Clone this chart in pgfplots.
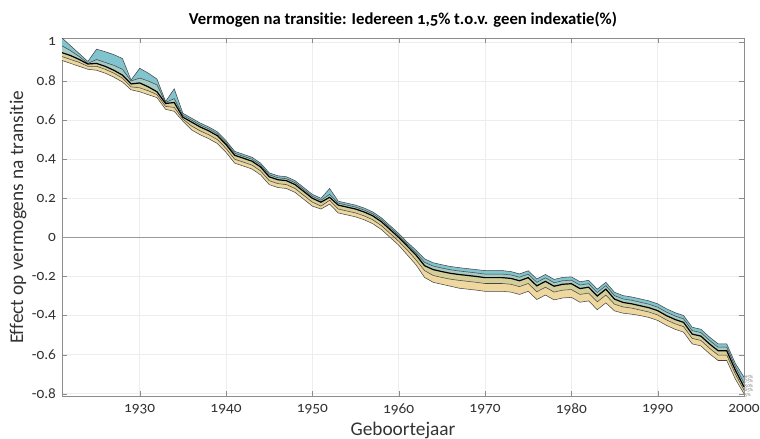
\documentclass[border=0pt]{standalone}
\usepackage{fontspec}
\setmainfont{Carlito}[Numbers=OldStyle, Ligatures=NoCommon]
\usepackage{pgfplots}
\usepackage{pgfplotstable}
\pgfplotsset{compat=1.18}
\usepgfplotslibrary{fillbetween}
\usetikzlibrary{calc}

\definecolor{bandhi}{HTML}{80C4D0}
\definecolor{bandmidhi}{HTML}{A6CBC2}
\definecolor{bandmidlo}{HTML}{D6CE98}
\definecolor{bandlo}{HTML}{EED8A0}
\definecolor{edge}{HTML}{454545}

% quantiles per geboortejaar
\pgfplotstableread{
year q5 q25 q50 q75 q95
1921 0.905 0.925 0.945 0.980 1.020
1922 0.890 0.910 0.930 0.955 0.980
1923 0.875 0.895 0.910 0.925 0.940
1924 0.860 0.875 0.887 0.890 0.900
1925 0.855 0.875 0.890 0.910 0.963
1926 0.840 0.860 0.875 0.895 0.950
1927 0.820 0.840 0.855 0.880 0.935
1928 0.795 0.815 0.830 0.860 0.915
1929 0.755 0.770 0.785 0.800 0.805
1930 0.745 0.765 0.790 0.815 0.865
1931 0.730 0.750 0.770 0.800 0.840
1932 0.715 0.730 0.745 0.780 0.810
1933 0.655 0.670 0.685 0.690 0.695
1934 0.645 0.665 0.690 0.710 0.760
1935 0.595 0.605 0.615 0.625 0.635
1936 0.550 0.570 0.590 0.600 0.610
1937 0.525 0.545 0.565 0.575 0.585
1938 0.505 0.525 0.545 0.555 0.565
1939 0.480 0.500 0.520 0.530 0.540
1940 0.435 0.455 0.475 0.485 0.495
1941 0.380 0.400 0.420 0.430 0.440
1942 0.365 0.385 0.405 0.415 0.425
1943 0.350 0.370 0.390 0.400 0.410
1944 0.320 0.340 0.360 0.370 0.380
1945 0.270 0.290 0.310 0.320 0.330
1946 0.255 0.275 0.295 0.305 0.315
1947 0.250 0.270 0.290 0.300 0.310
1948 0.230 0.250 0.270 0.280 0.290
1949 0.195 0.215 0.235 0.245 0.255
1950 0.160 0.180 0.200 0.210 0.220
1951 0.145 0.160 0.180 0.190 0.200
1952 0.170 0.190 0.205 0.220 0.250
1953 0.125 0.145 0.165 0.175 0.185
1954 0.115 0.135 0.155 0.165 0.175
1955 0.105 0.125 0.145 0.155 0.165
1956 0.090 0.110 0.130 0.140 0.150
1957 0.070 0.090 0.110 0.120 0.130
1958 0.040 0.060 0.080 0.090 0.100
1959 0.000 0.020 0.040 0.050 0.060
1960 -0.040 -0.020 0.000 0.010 0.020
1961 -0.090 -0.065 -0.045 -0.035 -0.025
1962 -0.140 -0.115 -0.090 -0.078 -0.065
1963 -0.205 -0.170 -0.145 -0.128 -0.110
1964 -0.230 -0.195 -0.165 -0.147 -0.130
1965 -0.240 -0.205 -0.175 -0.157 -0.140
1966 -0.250 -0.214 -0.184 -0.166 -0.149
1967 -0.260 -0.220 -0.190 -0.172 -0.155
1968 -0.265 -0.225 -0.195 -0.177 -0.160
1969 -0.270 -0.230 -0.200 -0.182 -0.165
1970 -0.276 -0.236 -0.206 -0.188 -0.170
1971 -0.276 -0.236 -0.206 -0.188 -0.170
1972 -0.276 -0.236 -0.206 -0.188 -0.170
1973 -0.280 -0.240 -0.210 -0.192 -0.175
1974 -0.292 -0.252 -0.222 -0.204 -0.187
1975 -0.276 -0.236 -0.206 -0.188 -0.171
1976 -0.318 -0.278 -0.248 -0.230 -0.213
1977 -0.295 -0.255 -0.225 -0.207 -0.190
1978 -0.320 -0.280 -0.250 -0.232 -0.215
1979 -0.310 -0.270 -0.240 -0.222 -0.205
1980 -0.307 -0.267 -0.237 -0.219 -0.202
1981 -0.332 -0.292 -0.262 -0.244 -0.227
1982 -0.325 -0.285 -0.255 -0.237 -0.220
1983 -0.370 -0.330 -0.300 -0.282 -0.265
1984 -0.335 -0.295 -0.265 -0.247 -0.230
1985 -0.376 -0.342 -0.316 -0.298 -0.281
1986 -0.388 -0.356 -0.333 -0.315 -0.298
1987 -0.393 -0.362 -0.340 -0.322 -0.305
1988 -0.400 -0.372 -0.350 -0.332 -0.315
1989 -0.410 -0.382 -0.360 -0.342 -0.325
1990 -0.425 -0.397 -0.375 -0.357 -0.340
1991 -0.450 -0.422 -0.400 -0.382 -0.365
1992 -0.470 -0.442 -0.420 -0.402 -0.385
1993 -0.485 -0.457 -0.435 -0.417 -0.400
1994 -0.545 -0.517 -0.495 -0.477 -0.460
1995 -0.555 -0.527 -0.505 -0.487 -0.470
1996 -0.595 -0.567 -0.545 -0.527 -0.510
1997 -0.630 -0.602 -0.580 -0.562 -0.545
1998 -0.630 -0.602 -0.580 -0.562 -0.545
1999 -0.725 -0.700 -0.680 -0.662 -0.645
2000 -0.800 -0.782 -0.765 -0.745 -0.715
}\quant

\begin{document}
\begin{tikzpicture}
\begin{axis}[
    name=ax,
    scale only axis,
    width=511.5pt, height=269pt,
    xmin=1921, xmax=2000,
    ymin=-0.815, ymax=1.02,
    xtick={1930,1940,1950,1960,1970,1980,1990,2000},
    ytick={-0.8,-0.6,-0.4,-0.2,0,0.2,0.4,0.6,0.8,1},
    /pgf/number format/1000 sep={},
    /pgf/number format/assume math mode=true,
    tick align=inside,
    major tick length=4pt,
    grid=major,
    major grid style={color=black!7, line width=0.5pt},
    axis line style={color=black!45, line width=0.5pt},
    tick style={color=black!45},
    ticklabel style={font=\fontsize{11.5}{13}\selectfont, text=black!80},
    xticklabel style={yshift=-2pt},
    yticklabel style={xshift=-1pt},
    title={\bfseries Vermogen na transitie: Iedereen 1,5\% t.o.v. geen indexatie(\%)},
    title style={font=\fontsize{12.5}{14}\selectfont, at={(axis description cs:0.5,1)}, anchor=center, yshift=8pt},
    xlabel={Geboortejaar},
    ylabel={Effect op vermogens na transitie},
    label style={font=\fontsize{14.5}{16}\selectfont, text=black!80},
    xlabel style={at={(axis description cs:0.5,0)}, anchor=center, yshift=-25pt},
    ylabel style={at={(axis description cs:-0.0645,0.5)}, anchor=center},
    clip=false,
  ]
  \addplot[black!40, line width=0.7pt, forget plot] coordinates {(1921,0) (2000,0)};

  \addplot[draw=none, name path=p95] table[x=year, y=q95] {\quant};
  \addplot[draw=none, name path=p75] table[x=year, y=q75] {\quant};
  \addplot[draw=none, name path=p50] table[x=year, y=q50] {\quant};
  \addplot[draw=none, name path=p25] table[x=year, y=q25] {\quant};
  \addplot[draw=none, name path=p5] table[x=year, y=q5] {\quant};

  \addplot[fill=bandhi] fill between[of=p95 and p75];
  \addplot[fill=bandmidhi] fill between[of=p75 and p50];
  \addplot[fill=bandmidlo] fill between[of=p50 and p25];
  \addplot[fill=bandlo] fill between[of=p25 and p5];

  \addplot[edge, line width=0.4pt] table[x=year, y=q95] {\quant};
  \addplot[edge, line width=0.4pt] table[x=year, y=q75] {\quant};
  \addplot[edge, line width=0.4pt] table[x=year, y=q25] {\quant};
  \addplot[edge, line width=0.4pt] table[x=year, y=q5] {\quant};
  \addplot[black, line width=0.9pt] table[x=year, y=q50] {\quant};

  \node[anchor=west, font=\fontsize{3.5}{4}\selectfont, text=black!60, inner sep=0.5pt] at (axis cs:2000,-0.715) {95\%};
  \node[anchor=west, font=\fontsize{3.5}{4}\selectfont, text=black!60, inner sep=0.5pt] at (axis cs:2000,-0.738) {75\%};
  \node[anchor=west, font=\fontsize{3.5}{4}\selectfont, text=black!60, inner sep=0.5pt] at (axis cs:2000,-0.761) {50\%};
  \node[anchor=west, font=\fontsize{3.5}{4}\selectfont, text=black!60, inner sep=0.5pt] at (axis cs:2000,-0.784) {25\%};
  \node[anchor=west, font=\fontsize{3.5}{4}\selectfont, text=black!60, inner sep=0.5pt] at (axis cs:2000,-0.807) {5\%};
\end{axis}
\pgfresetboundingbox
\path[use as bounding box] ($(ax.south west)+(-46.5pt,-31.5pt)$) rectangle ($(ax.north east)+(12pt,28.5pt)$);
\end{tikzpicture}
\end{document}
